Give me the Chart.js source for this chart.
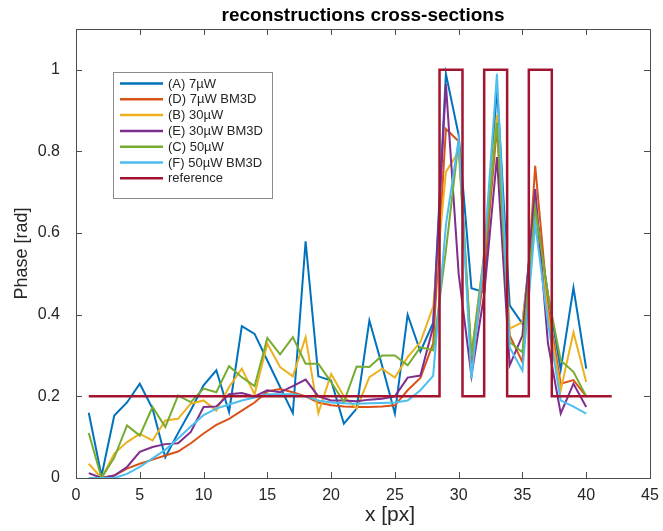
<!DOCTYPE html>
<html>
<head>
<meta charset="utf-8">
<script src="https://cdn.jsdelivr.net/npm/chart.js@4.4.0/dist/chart.umd.min.js"></script>
<style>body{margin:0;background:#fff}</style>
</head>
<body>
<canvas id="myChart" width="663" height="531"></canvas>
<script>
// x positions (px) of the cross-section samples
const xPx = [1,2,3,4,5,6,7,8,9,10,11,12,13,14,15,16,17,18,19,20,
             21,22,23,24,25,26,27,28,29,30,31,32,33,34,35,36,37,38,39,40];

const labels = ['(A) 7\u00b5W', '(D) 7\u00b5W BM3D', '(B) 30\u00b5W', '(E) 30\u00b5W BM3D',
                '(C) 50\u00b5W', '(F) 50\u00b5W BM3D', 'reference'];
const colors = ['#0072BD', '#D95319', '#EDB120', '#7E2F8E', '#77AC30', '#4DBEEE', '#A2142F'];

const phaseA = [0.16,0.005,0.153,0.185,0.231,0.17,0.051,0.11,0.166,0.227,0.264,0.162,0.372,0.353,0.288,0.223,0.159,0.58,0.249,0.239,
                0.133,0.17,0.386,0.275,0.158,0.40,0.31,0.38,0.99,0.84,0.465,0.455,0.96,0.423,0.378,0.67,0.45,0.265,0.466,0.268];
const phaseD = [0,0,0.006,0.023,0.035,0.045,0.055,0.065,0.085,0.109,0.13,0.145,0.165,0.185,0.212,0.218,0.21,0.2,0.185,0.178,
                0.175,0.174,0.174,0.175,0.178,0.215,0.245,0.33,0.855,0.825,0.28,0.5,0.86,0.349,0.284,0.765,0.42,0.231,0.24,0.2];
const phaseB = [0.035,0,0.06,0.088,0.108,0.092,0.141,0.145,0.182,0.19,0.165,0.223,0.268,0.205,0.329,0.272,0.249,0.345,0.159,0.255,
                0.2,0.17,0.247,0.268,0.246,0.296,0.333,0.42,0.75,0.8,0.3,0.55,0.89,0.366,0.382,0.65,0.4,0.215,0.357,0.235];
const phaseE = [0.012,0,0.006,0.027,0.064,0.076,0.083,0.085,0.113,0.174,0.175,0.205,0.208,0.2,0.215,0.21,0.225,0.241,0.2,0.19,
                0.19,0.188,0.192,0.194,0.2,0.246,0.251,0.37,0.965,0.5,0.25,0.45,0.786,0.276,0.349,0.708,0.33,0.158,0.231,0.174];
const phaseC = [0.11,0,0.05,0.129,0.104,0.174,0.125,0.202,0.186,0.219,0.21,0.274,0.247,0.225,0.343,0.303,0.345,0.28,0.28,0.235,
                0.186,0.273,0.272,0.3,0.3,0.276,0.32,0.313,0.557,0.826,0.3,0.545,0.87,0.333,0.308,0.663,0.45,0.288,0.26,0.2];
const phaseF = [0,0,0,0.01,0.027,0.048,0.069,0.097,0.126,0.154,0.17,0.18,0.19,0.197,0.205,0.205,0.205,0.2,0.19,0.185,
                0.183,0.182,0.183,0.184,0.185,0.19,0.215,0.25,0.62,0.83,0.243,0.55,0.99,0.32,0.263,0.623,0.38,0.19,0.175,0.158];

// reference step profile
const refX = [1,28.5,28.5,30.3,30.3,32,32,33.8,33.8,35.5,35.5,37.3,37.3,42];
const refY = [0.2,0.2,1,1,0.2,0.2,1,1,0.2,0.2,1,1,0.2,0.2];

const xTicks = [0,5,10,15,20,25,30,35,40,45];
const yTicks = [0,0.2,0.4,0.6,0.8,1];

const titleText = 'reconstructions cross-sections';
const xTitle = 'x [px]';
const yTitle = 'Phase [rad]';

const FONT = "'Liberation Sans', Arial, Helvetica, sans-serif";

function pts(xs, ys){
    return xs.map((x, i) => ({x: x, y: ys[i]}));
}

const series = [phaseA, phaseD, phaseB, phaseE, phaseC, phaseF];
var datasets = [];
series.forEach((s, idx) => {
    datasets.push({
        label: labels[idx],
        data: pts(xPx, s),
        borderColor: colors[idx],
        backgroundColor: colors[idx],
        borderWidth: 2,
        pointRadius: 0,
        tension: 0,
        order: 7 - idx
    });
});
datasets.push({
    label: labels[6],
    data: pts(refX, refY),
    borderColor: colors[6],
    backgroundColor: colors[6],
    borderWidth: 2.5,
    pointRadius: 0,
    tension: 0,
    order: 0
});

// axes box, inward ticks, titles and legend box in matlab style
const matlabFrame = {
    id: 'matlabFrame',
    afterDraw(chart){
        const c = chart.ctx;
        const a = chart.chartArea;
        const xs = chart.scales.x, ys = chart.scales.y;
        c.save();
        c.strokeStyle = '#4d4d4d';
        c.lineWidth = 1;
        c.strokeRect(a.left + 0.5, a.top + 0.5, a.right - a.left, a.bottom - a.top);
        c.beginPath();
        xTicks.forEach(v => {
            const p = Math.round(xs.getPixelForValue(v)) + 0.5;
            c.moveTo(p, a.bottom); c.lineTo(p, a.bottom - 6);
            c.moveTo(p, a.top); c.lineTo(p, a.top + 6);
        });
        yTicks.forEach(v => {
            const p = Math.round(ys.getPixelForValue(v)) + 0.5;
            c.moveTo(a.left, p); c.lineTo(a.left + 6, p);
            c.moveTo(a.right, p); c.lineTo(a.right - 6, p);
        });
        c.stroke();

        // titles
        c.textAlign = 'center';
        c.textBaseline = 'middle';
        c.fillStyle = '#000';
        c.font = 'bold 19px ' + FONT;
        c.fillText(titleText, (a.left + a.right) / 2, 16);
        c.fillStyle = '#262626';
        c.font = '21px ' + FONT;
        c.fillText(xTitle, 390, 515);

        // legend
        const lx = 113, ly = 72, lw = 159, lh = 126;
        c.fillStyle = '#fff';
        c.fillRect(lx, ly, lw, lh);
        c.strokeStyle = '#8c8c8c';
        c.strokeRect(lx + 0.5, ly + 0.5, lw, lh);
        c.font = '13px ' + FONT;
        c.textAlign = 'left';
        chart.data.datasets.forEach((d, i) => {
            const y = ly + 11.5 + i * 15.8;
            c.strokeStyle = d.borderColor;
            c.lineWidth = 2.5;
            c.beginPath();
            c.moveTo(lx + 7, y); c.lineTo(lx + 50, y);
            c.stroke();
            c.fillStyle = '#262626';
            c.fillText(d.label, lx + 55, y + 0.5);
        });
        c.restore();
    }
};

const ctx = document.getElementById('myChart');
var myChart = new Chart(ctx, {
    type: 'line',
    data: { datasets: datasets },
    options: {
        responsive: false,
        animation: false,
        layout: { padding: { left: 0, right: 13, top: 29, bottom: 0 } },
        plugins: {
            legend: { display: false },
            tooltip: { enabled: false },
            title: { display: false }
        },
        scales: {
            x: {
                type: 'linear',
                min: 0, max: 45,
                grid: { display: false },
                border: { display: false },
                afterBuildTicks: s => { s.ticks = xTicks.map(v => ({value: v})); },
                afterFit: s => { s.height = 53; },
                ticks: { color: '#262626', padding: 0, maxRotation: 0,
                         font: { family: FONT, size: 16 } }
            },
            y: {
                min: 0, max: 1.1,
                grid: { display: false },
                border: { display: false },
                afterBuildTicks: s => { s.ticks = yTicks.map(v => ({value: v})); },
                afterFit: s => { s.width = 76; },
                ticks: { color: '#262626', padding: 8,
                         font: { family: FONT, size: 16 },
                         callback: v => String(Math.round(v * 10) / 10) },
                title: { display: true, text: yTitle, color: '#262626',
                         font: { family: FONT, size: 18 }, padding: { top: 11, bottom: 0 } }
            }
        }
    },
    plugins: [matlabFrame]
});
</script>
</body>
</html>
